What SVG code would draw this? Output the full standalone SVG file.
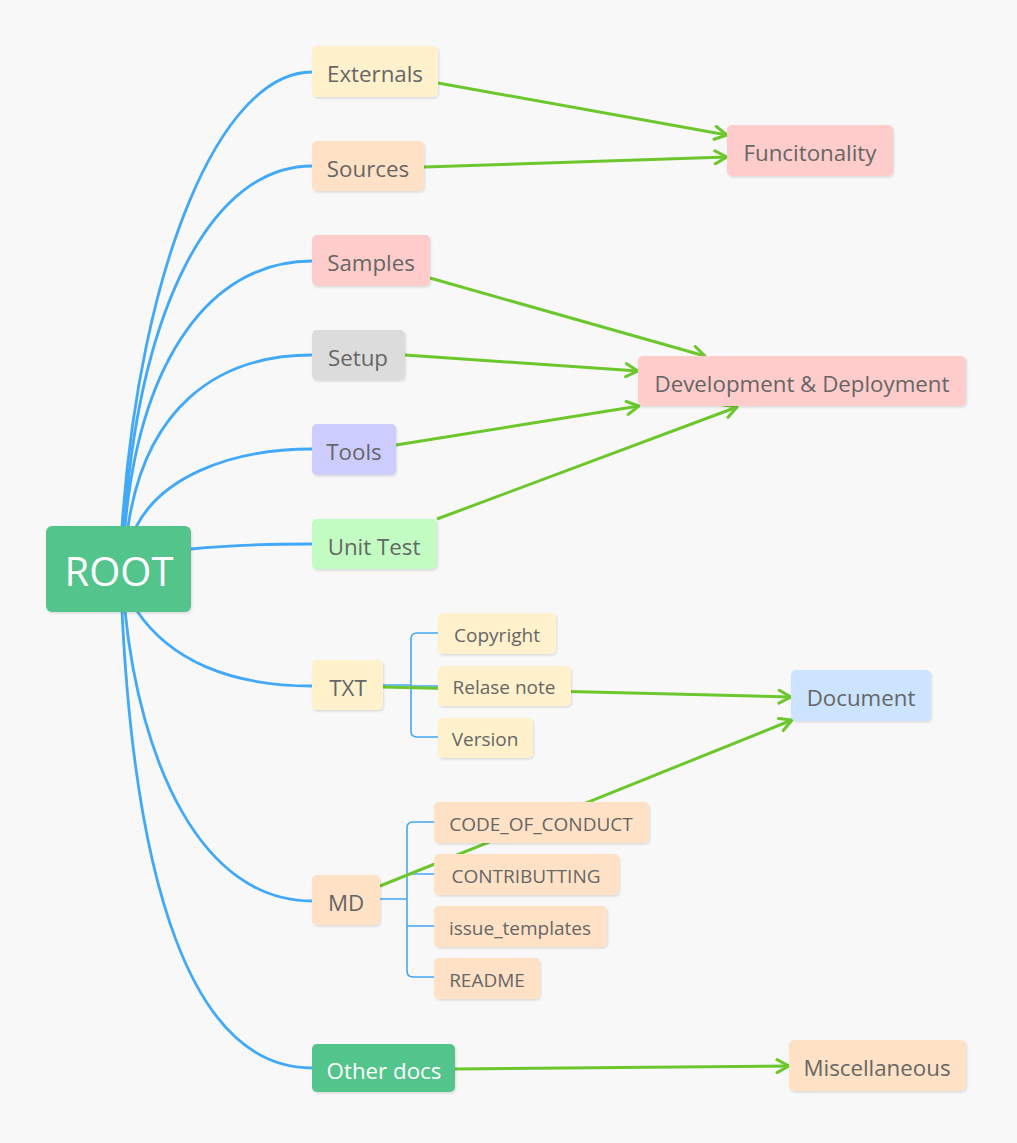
<svg xmlns="http://www.w3.org/2000/svg" width="1017" height="1143" viewBox="0 0 1017 1143">
<defs>
<filter id="sh" x="-10%" y="-10%" width="120%" height="130%">
<feDropShadow dx="1" dy="1.5" stdDeviation="1" flood-color="#000" flood-opacity="0.12"/>
</filter>
<marker id="arr" viewBox="0 0 16 16" refX="14" refY="8" markerWidth="16" markerHeight="16" markerUnits="userSpaceOnUse" orient="auto">
<path d="M2,1.5 L14,8 L2,14.5" fill="none" stroke="#6cc72d" stroke-width="3" stroke-linecap="round" stroke-linejoin="round"/>
</marker>
</defs>
<style>
.bg{fill:#f8f8f8}
.n rect{filter:url(#sh)}
.t{font-family:"Open Sans","Noto Sans","DejaVu Sans",sans-serif;font-size:22.3px;fill:#666;text-anchor:middle}
.s{font-family:"Open Sans","Noto Sans","DejaVu Sans",sans-serif;font-size:19px;fill:#666;text-anchor:middle}
.w{fill:#fff}
.b{fill:none;stroke:#42a8f8;stroke-width:2.8}
.bt{fill:none;stroke:#42a8f8;stroke-width:1.6}
.g{fill:none;stroke:#6cc72d;stroke-width:3;marker-end:url(#arr)}
.yel{fill:#fff1cc}.pch{fill:#ffe2c6}.red{fill:#ffcccc}.gry{fill:#dcdcdc}.vio{fill:#ccccff}.lgr{fill:#c3fcc3}.blu{fill:#cce4ff}.grn{fill:#52c48c}
</style>
<rect class="bg" x="0" y="0" width="1017" height="1143"/>
<g id="connectors">
<path class="b" d="M122,527 C140,266 220,72 312,72"/>
<path class="b" d="M124,527 C140,305 212,166 312,166"/>
<path class="b" d="M125,527 C140,360 210,261 312,261"/>
<path class="b" d="M128,527 C145,410 215,355 312,355"/>
<path class="b" d="M136,527 C160,480 225,449 312,449"/>
<path class="b" d="M191,549 C230,545 260,544 312,544"/>
<path class="b" d="M137,611 C170,660 230,686 312,686"/>
<path class="b" d="M125,611 C140,760 200,901 312,901"/>
<path class="b" d="M122,611 C135,880 190,1068 312,1068"/>
<path class="bt" d="M383,685 H411 M438,633 H417 Q411,633 411,639 V731 Q411,737 417,737 H438 M411,686 H438"/>
<path class="bt" d="M380,899 H407 M434,822 H413 Q407,822 407,828 V971 Q407,977 413,977 H434 M407,874 H434 M407,926 H434"/>
<path class="g" d="M438,83 L727,135"/>
<path class="g" d="M424,167 L727,157"/>
<path class="g" d="M430,278 L705,356"/>
<path class="g" d="M405,355 L638,371"/>
<path class="g" d="M396,445 L639,406"/>
<path class="g" d="M437,519 L737,407"/>
<path class="g" d="M383,687 L791,697"/>
<path class="g" d="M380,886 L792,720"/>
<path class="g" d="M455,1069 L789,1066"/>
</g>
<g id="root" class="n"><rect class="grn" x="46" y="526" width="145" height="86" rx="6"/><text class="t w" x="119" y="586" style="font-size:40px">ROOT</text></g>
<g id="externals" class="n"><rect class="yel" x="312" y="46" width="126" height="51" rx="5"/><text class="t" x="375" y="82">Externals</text></g>
<g id="sources" class="n"><rect class="pch" x="312" y="141" width="112" height="50" rx="5"/><text class="t" x="368" y="177">Sources</text></g>
<g id="samples" class="n"><rect class="red" x="312" y="235" width="118" height="51" rx="5"/><text class="t" x="371" y="271">Samples</text></g>
<g id="setup" class="n"><rect class="gry" x="312" y="330" width="93" height="50" rx="5"/><text class="t" x="358" y="366">Setup</text></g>
<g id="tools" class="n"><rect class="vio" x="312" y="424" width="84" height="51" rx="5"/><text class="t" x="354" y="460">Tools</text></g>
<g id="unittest" class="n"><rect class="lgr" x="312" y="519" width="125" height="50" rx="5"/><text class="t" x="374" y="555">Unit Test</text></g>
<g id="txt" class="n"><rect class="yel" x="312" y="660" width="71" height="50" rx="5"/><text class="t" x="348" y="696">TXT</text></g>
<g id="md" class="n"><rect class="pch" x="312" y="875" width="68" height="50" rx="5"/><text class="t" x="346" y="911">MD</text></g>
<g id="otherdocs" class="n"><rect class="grn" x="312" y="1044" width="143" height="48" rx="5"/><text class="t w" x="384" y="1079">Other docs</text></g>
<g id="copyright" class="n"><rect class="yel" x="438" y="613" width="118" height="41" rx="5"/><text class="s" x="497" y="642">Copyright</text></g>
<g id="relasenote" class="n"><rect class="yel" x="438" y="666" width="133" height="40" rx="5"/><text class="s" x="504" y="694">Relase note</text></g>
<g id="version" class="n"><rect class="yel" x="438" y="718" width="95" height="40" rx="5"/><text class="s" x="485" y="746">Version</text></g>
<g id="codeofconduct" class="n"><rect class="pch" x="434" y="802" width="215" height="41" rx="5"/><text class="s" x="541" y="831">CODE_OF_CONDUCT</text></g>
<g id="contributting" class="n"><rect class="pch" x="434" y="854" width="185" height="41" rx="5"/><text class="s" x="526" y="883">CONTRIBUTTING</text></g>
<g id="issuetemplates" class="n"><rect class="pch" x="434" y="906" width="173" height="41" rx="5"/><text class="s" x="520" y="935">issue_templates</text></g>
<g id="readme" class="n"><rect class="pch" x="434" y="958" width="106" height="41" rx="5"/><text class="s" x="487" y="987">README</text></g>
<g id="funcitonality" class="n"><rect class="red" x="727" y="125" width="166" height="51" rx="5"/><text class="t" x="810" y="161">Funcitonality</text></g>
<g id="devdeploy" class="n"><rect class="red" x="638" y="356" width="328" height="50" rx="5"/><text class="t" x="802" y="392">Development &amp; Deployment</text></g>
<g id="document" class="n"><rect class="blu" x="791" y="670" width="140" height="51" rx="5"/><text class="t" x="861" y="706">Document</text></g>
<g id="miscellaneous" class="n"><rect class="pch" x="789" y="1040" width="177" height="51" rx="5"/><text class="t" x="877" y="1076">Miscellaneous</text></g>
</svg>
